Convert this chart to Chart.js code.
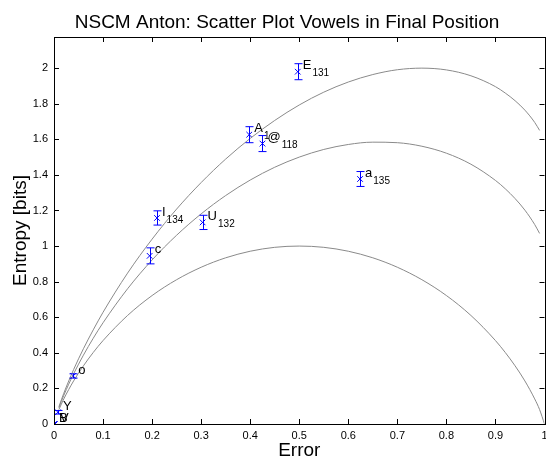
<!DOCTYPE html>
<html lang="en">

<head>
  <title></title>
  <meta charset="UTF-8">
  <script src="https://cdn.jsdelivr.net/npm/chart.js@4.4.1/dist/chart.umd.min.js"></script>
  <style>
    body { margin: 0; background: #fff; }
    canvas { display: block; }
  </style>
</head>

<body>
  <canvas id="myChart" width="546" height="461"></canvas>
  <script>
    // vowel points: label, subscript (count), error rate, entropy, error bar half height
    const vowels = ["E", "A", "@", "I", "U", "c", "a", "o", "Y", "B", "V"];
    const counts = ["131", "1", "118", "134", "132", "", "135", "", "", "", ""];
    const errorRate = [0.497, 0.398, 0.425, 0.210, 0.303, 0.195, 0.624, 0.039, 0.008, 0, 0.002];
    const entropy = [1.98, 1.626, 1.576, 1.158, 1.133, 0.945, 1.377, 0.27, 0.066, 0, 0];
    const entropyErr = [0.045, 0.045, 0.045, 0.04, 0.04, 0.045, 0.042, 0.012, 0.01, 0, 0];

    // bound curves
    const curveX = [0.01, 0.02, 0.04, 0.06, 0.08, 0.1, 0.15, 0.2, 0.25, 0.3, 0.35, 0.4, 0.45, 0.5,
      0.55, 0.6, 0.65, 0.7, 0.75, 0.8, 0.85, 0.9, 0.92, 0.94, 0.96, 0.98, 0.99, 1.0];
    const curve1 = [0.081, 0.141, 0.242, 0.327, 0.402, 0.469, 0.610, 0.722, 0.811, 0.881, 0.934, 0.971, 0.993, 1.0,
      0.993, 0.971, 0.934, 0.881, 0.811, 0.722, 0.610, 0.469, 0.402, 0.327, 0.242, 0.141, 0.081, 0];
    const curve2 = [0.091, 0.161, 0.282, 0.387, 0.482, 0.569, 0.760, 0.922, 1.061, 1.181, 1.284, 1.371, 1.443, 1.5,
      1.543, 1.571, 1.584, 1.581, 1.561, 1.522, 1.460, 1.369, 1.322, 1.267, 1.202, 1.121, 1.071];
    const curve3 = [0.097, 0.173, 0.306, 0.423, 0.529, 0.628, 0.848, 1.039, 1.208, 1.357, 1.489, 1.605, 1.706, 1.793,
      1.865, 1.922, 1.964, 1.991, 2.0, 1.990, 1.957, 1.896, 1.860, 1.817, 1.764, 1.695, 1.650];

    const xTicks = [0, 0.1, 0.2, 0.3, 0.4, 0.5, 0.6, 0.7, 0.8, 0.9, 1];
    const yTicks = [0, 0.2, 0.4, 0.6, 0.8, 1, 1.2, 1.4, 1.6, 1.8, 2];
    const titleText = 'NSCM Anton: Scatter Plot Vowels in Final Position';

    const FONT = "'Liberation Sans', Arial, Helvetica, sans-serif";
    const toXY = (xs, ys) => ys.map((y, i) => ({ x: xs[i], y: y }));
    const curveStyle = {
      type: 'line', borderColor: '#8a8a8a', borderWidth: 1, pointRadius: 0,
      cubicInterpolationMode: 'monotone', fill: false
    };

    // error bars, inward ticks, box, point labels and the title
    const extras = {
      id: 'extras',
      afterDatasetsDraw(chart) {
        const ctx = chart.ctx;
        const xs = chart.scales.x, ys = chart.scales.y;
        const a = chart.chartArea;
        ctx.save();
        // error bars
        ctx.strokeStyle = '#0000ff';
        ctx.lineWidth = 1;
        errorRate.forEach((ex, i) => {
          if (!entropyErr[i]) return;
          const px = Math.round(xs.getPixelForValue(ex)) + 0.5;
          const top = ys.getPixelForValue(entropy[i] + entropyErr[i]);
          const bot = ys.getPixelForValue(entropy[i] - entropyErr[i]);
          ctx.beginPath();
          ctx.moveTo(px, top); ctx.lineTo(px, bot);
          ctx.moveTo(px - 4, top); ctx.lineTo(px + 4, top);
          ctx.moveTo(px - 4, bot); ctx.lineTo(px + 4, bot);
          ctx.stroke();
        });
        // labels
        ctx.fillStyle = '#000';
        ctx.textBaseline = 'middle';
        ctx.textAlign = 'left';
        vowels.forEach((v, i) => {
          const px = xs.getPixelForValue(errorRate[i]) + 5;
          const py = ys.getPixelForValue(entropy[i]);
          ctx.font = '13px ' + FONT;
          ctx.fillText(v, px, py - 6);
          const w = ctx.measureText(v).width;
          if (counts[i]) {
            ctx.font = '10px ' + FONT;
            ctx.fillText(counts[i], px + w + 1, py + 2);
          }
        });
        // box and inward ticks
        ctx.strokeStyle = '#000';
        ctx.lineWidth = 1;
        ctx.strokeRect(Math.round(a.left) + 0.5, Math.round(a.top) + 0.5,
          Math.round(a.right - a.left), Math.round(a.bottom - a.top));
        ctx.beginPath();
        xTicks.forEach(t => {
          const px = Math.round(xs.getPixelForValue(t)) + 0.5;
          ctx.moveTo(px, a.bottom); ctx.lineTo(px, a.bottom - 5);
          ctx.moveTo(px, a.top); ctx.lineTo(px, a.top + 5);
        });
        yTicks.forEach(t => {
          const py = Math.round(ys.getPixelForValue(t)) + 0.5;
          ctx.moveTo(a.left, py); ctx.lineTo(a.left + 5, py);
          ctx.moveTo(a.right, py); ctx.lineTo(a.right - 5, py);
        });
        ctx.stroke();
        // title
        ctx.font = '19px ' + FONT;
        ctx.textAlign = 'center';
        ctx.textBaseline = 'alphabetic';
        ctx.fillText(titleText, 287, 28);
        ctx.restore();
      }
    };

    new Chart("myChart", {
      type: 'scatter',
      data: {
        datasets: [
          Object.assign({ data: toXY(curveX, curve1) }, curveStyle),
          Object.assign({ data: toXY(curveX, curve2) }, curveStyle),
          Object.assign({ data: toXY(curveX, curve3) }, curveStyle),
          {
            data: toXY(errorRate, entropy),
            pointStyle: 'crossRot',
            pointRadius: 4,
            borderColor: '#0000ff',
            backgroundColor: '#0000ff',
            borderWidth: 1
          }
        ]
      },
      plugins: [extras],
      options: {
        responsive: false,
        animation: false,
        layout: { autoPadding: false, padding: { left: 0, right: 1.5, top: 37, bottom: 0 } },
        plugins: {
          legend: { display: false },
          tooltip: { enabled: false },
          title: { display: false }
        },
        scales: {
          x: {
            type: 'linear', min: 0, max: 1,
            grid: { display: false, drawTicks: false },
            border: { display: false },
            afterBuildTicks: s => { s.ticks = xTicks.map(v => ({ value: v })); },
            afterFit: s => { s.height = 37; s.paddingLeft = 0; s.paddingRight = 0; },
            ticks: {
              color: '#000', padding: 5, maxRotation: 0,
              font: { family: FONT, size: 11 },
              callback: v => String(v)
            },
            title: {
              display: true, text: 'Error', color: '#000',
              font: { family: FONT, size: 19 },
              padding: { top: 0, bottom: -1 }
            }
          },
          y: {
            type: 'linear', min: 0, max: 2.175,
            grid: { display: false, drawTicks: false },
            border: { display: false },
            afterBuildTicks: s => { s.ticks = yTicks.map(v => ({ value: v })); },
            afterFit: s => { s.width = 54; s.paddingTop = 0; s.paddingBottom = 0; },
            ticks: {
              color: '#000', padding: 6,
              font: { family: FONT, size: 11 },
              callback: v => String(v)
            },
            title: {
              display: true, text: 'Entropy [bits]', color: '#000',
              font: { family: FONT, size: 19 },
              padding: { top: 9.5, bottom: 0 }
            }
          }
        }
      }
    });
  </script>
</body>

</html>
